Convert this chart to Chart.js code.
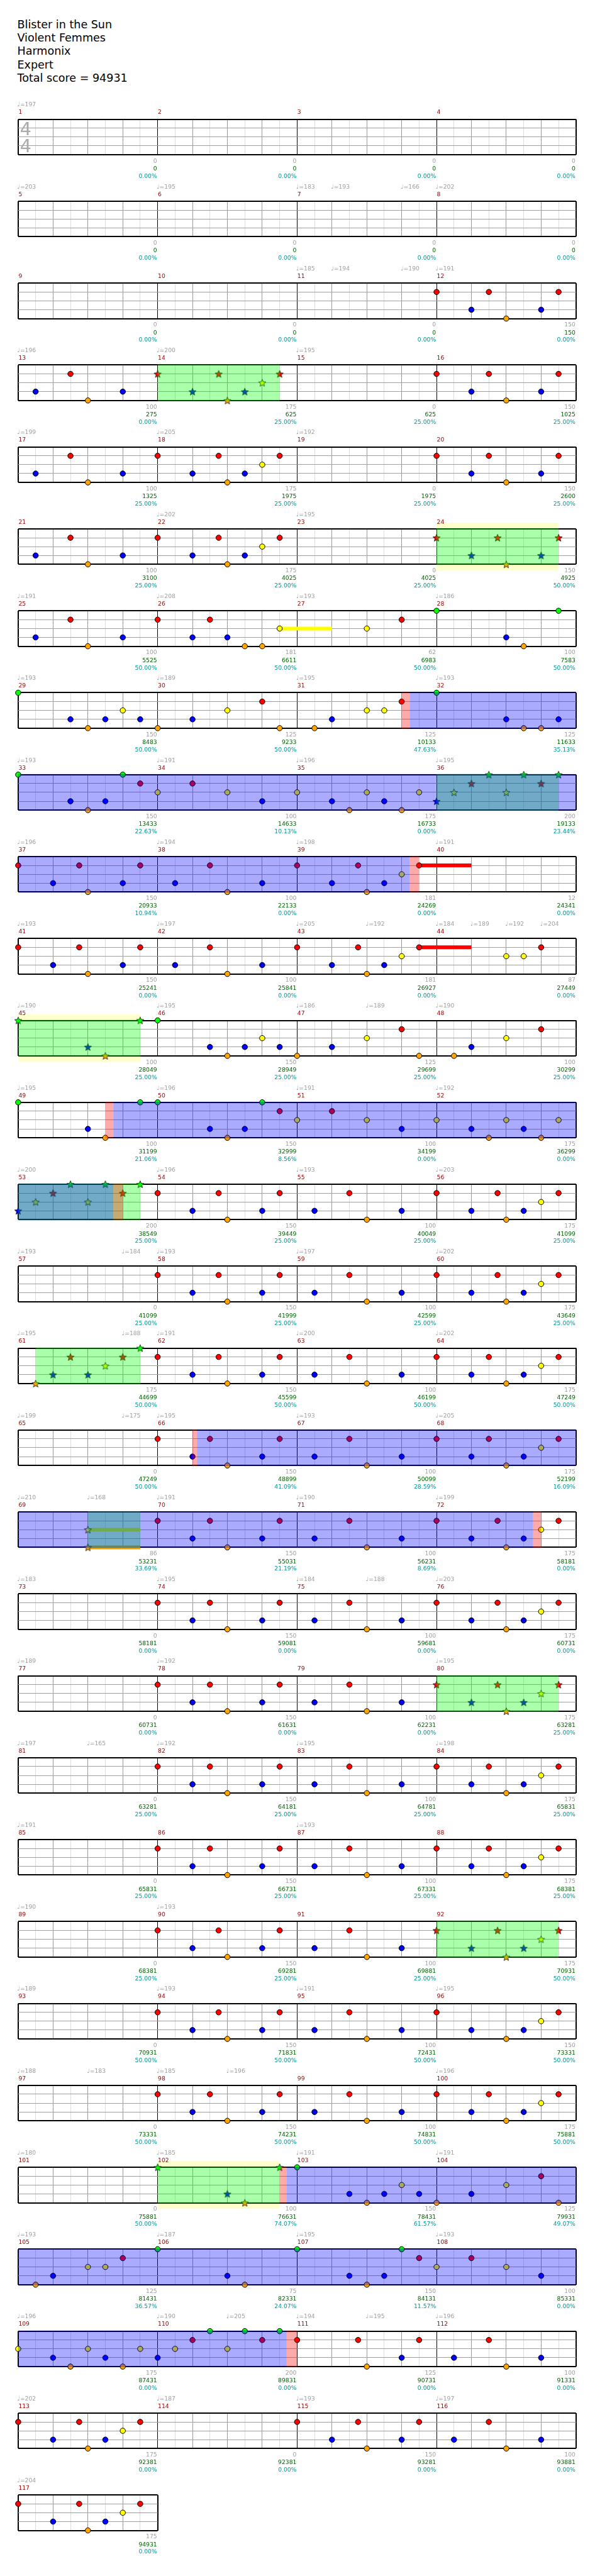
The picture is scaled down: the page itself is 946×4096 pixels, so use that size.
<!DOCTYPE html>
<html>
<head>
<meta charset="utf-8">
<script src="https://cdn.jsdelivr.net/npm/chart.js@4.4.1/dist/chart.umd.min.js"></script>
<style>
  html, body { margin: 0; padding: 0; background: #fff; }
  body { position: relative; width: 946px; height: 4096px; overflow: hidden; font-family: "DejaVu Sans", sans-serif; }
  #head { position: absolute; left: 27.5px; top: 28.8px; font-size: 17.55px; line-height: 21.25px; color: #000; white-space: nowrap; }
  canvas.row { position: absolute; left: 0; }
</style>
</head>
<body>
<div id="head"></div>
<script>
// song header lines
const songInfo = ["Blister in the Sun", "Violent Femmes", "Harmonix", "Expert", "Total score = 94931"];

// notes per measure: lane letter + beat in measure (G green, R red, Y yellow, B blue, K kick)
const measureNotes = [
  "", "", "", "", "", "", "", "", "", "", "",
  "R0 B1 R1.5 K2 B3 R3.5",
  "B0.5 R1.5 K2 B3",
  "R0 B1 R1.75 K2 B2.5 Y3 R3.5",
  "",
  "R0 B1 R1.5 K2 B3 R3.5",
  "B0.5 R1.5 K2 B3",
  "R0 B1 R1.75 K2 B2.5 Y3 R3.5",
  "",
  "R0 B1 R1.5 K2 B3 R3.5",
  "B0.5 R1.5 K2 B3",
  "R0 B1 R1.75 K2 B2.5 Y3 R3.5",
  "",
  "R0 B1 R1.75 K2 B3 R3.5",
  "B0.5 R1.5 K2 B3",
  "R0 B1 R1.5 B2 K2.5 K3 Y3.5",
  "Y2 R3",
  "G0 B2 K2.5 G3.5",
  "G0 B1.5 K2 B2.5 Y3 B3.5",
  "K0 B1 Y2 R3 K3.5",
  "K0.5 B1 Y2 Y2.5 R3",
  "G0 B2 K2.5 K3 B3.5",
  "G0 B1.5 K2 B2.5 G3 R3.5",
  "Y0 R1 Y2 B3",
  "Y0 B1 K1.5 Y2 B2.5 K3 Y3.5",
  "B0 Y0.5 R1 G1.5 Y2 G2.5 R3 G3.5",
  "R0 B1 R1.75 K2 B3 R3.5",
  "B0.5 R1.5 K2 B3",
  "R0 B1 R1.75 K2 B2.5 Y3 R3.5",
  "",
  "R0 B1 R1.75 K2 B3 R3.5",
  "B0.5 R1.5 K2 B3",
  "R0 B1 R1.75 K2 B2.5 Y3 R3.5",
  "Y2 Y2.5 R3",
  "G0 B2 K2.5 G3.5",
  "G0 B1.5 K2 B2.5 Y3 B3.5",
  "K0 B1 Y2 R3 K3.5",
  "K0.5 B1 Y2 R3",
  "G0 B2 K2.5 G3.5",
  "G0 B1.5 K2 B2.5 G3 R3.5",
  "Y0 R1 Y2 B3",
  "Y0 B1 K1.5 Y2 B2.5 K3 Y3.5",
  "B0 Y0.5 R1 G1.5 Y2 G2.5 R3 G3.5",
  "R0 B1 R1.75 K2 B3 R3.5",
  "B0.5 R1.5 K2 B3",
  "R0 B1 R1.75 K2 B2.5 Y3 R3.5",
  "",
  "R0 B1 R1.75 K2 B3 R3.5",
  "B0.5 R1.5 K2 B3",
  "R0 B1 R1.75 K2 B2.5 Y3 R3.5",
  "K0.5 B1 R1.5 B2 Y2.5 R3 G3.5",
  "R0 B1 R1.75 K2 B3 R3.5",
  "B0.5 R1.5 K2 B3",
  "R0 B1 R1.5 K2 B2.5 Y3 R3.5",
  "",
  "R0 B1 R1.5 K2 B3 R3.5",
  "B0.5 R1.5 K2 B3",
  "R0 B1 R1.5 K2 B2.5 Y3 R3.5",
  "Y2 K2",
  "R0 B1 R1.5 K2 B3 R3.5",
  "B0.5 R1.5 K2 B3",
  "R0 B1 R1.75 K2 B2.5 Y3 R3.5",
  "",
  "R0 B1 R1.5 K2 B3 R3.5",
  "B0.5 R1.5 K2 B3",
  "R0 B1 R1.75 K2 B2.5 Y3 R3.5",
  "",
  "R0 B1 R1.5 K2 B3 R3.5",
  "B0.5 R1.5 K2 B3",
  "R0 B1 R1.75 K2 B2.5 Y3 R3.5",
  "",
  "R0 B1 R1.5 K2 B3 R3.5",
  "B0.5 R1.5 K2 B3",
  "R0 B1 R1.5 K2 B2.5 Y3 R3.5",
  "",
  "R0 B1 R1.5 K2 B3 R3.5",
  "B0.5 R1.5 K2 B3",
  "R0 B1 R1.5 K2 B2.5 Y3 R3.5",
  "",
  "R0 B1 R1.75 K2 B3 R3.5",
  "B0.5 R1.5 K2 B3",
  "R0 B1 R1.75 K2 B2.5 Y3 R3.5",
  "",
  "R0 B1 R1.75 K2 B3 R3.5",
  "B0.5 R1.5 K2 B3",
  "R0 B1 K2 B2.5 Y3 R3.5",
  "",
  "R0 B1 R1.5 K2 B3 R3.5",
  "B0.5 R1.5 K2 B3",
  "R0 B1 R1.5 K2 B2.5 Y3 R3.5",
  "",
  "G0 B2 K2.5 G3.5",
  "G0 B1.5 K2 B2.5 Y3 B3.5",
  "K0 B1 Y2 R3 K3.5",
  "K0.5 B1 Y2 Y2.5 R3",
  "G0 B2 K2.5",
  "G0 B1.5 K2 B2.5 G3 R3.5",
  "Y0 R1 Y2 B3",
  "Y0 B1 K1.5 Y2 B2.5 K3 Y3.5",
  "B0 Y0.5 R1 G1.5 Y2 G2.5 R3 G3.5",
  "R0 R1.75 K2 B3 R3.5",
  "B0.5 R1.5 K2 B3",
  "R0 B1 R1.75 K2 B2.5 Y3 R3.5",
  "",
  "R0 B1 R1.75 K2 B3 R3.5",
  "B0.5 R1.5 K2 B3",
  "R0 B1 R1.75 K2 B2.5 Y3 R3.5"
];

// per measure score, running total, star power meter
const measureScores = [
  0, 0, 0, 0, 0, 0, 0, 0, 0, 0, 0,
  150, 100, 175, 0, 150, 100, 175, 0, 150,
  100, 175, 0, 150, 100, 181, 62, 100, 150, 125,
  125, 125, 150, 100, 175, 200, 150, 100, 181, 12,
  150, 100, 181, 87, 100, 150, 125, 100, 100, 150,
  100, 175, 200, 150, 100, 175, 0, 150, 100, 175,
  175, 150, 100, 175, 0, 150, 100, 175, 86, 150,
  100, 175, 0, 150, 100, 175, 0, 150, 100, 175,
  0, 150, 100, 175, 0, 150, 100, 175, 0, 150,
  100, 175, 0, 150, 100, 150, 0, 150, 100, 175,
  0, 100, 150, 125, 125, 75, 150, 100, 175, 200,
  125, 100, 175, 0, 150, 100, 175
];
const runningTotals = [
  0, 0, 0, 0, 0, 0, 0, 0, 0, 0, 0,
  150, 275, 625, 625, 1025, 1325, 1975, 1975, 2600,
  3100, 4025, 4025, 4925, 5525, 6611, 6983, 7583, 8483, 9233,
  10133, 11633, 13433, 14633, 16733, 19133, 20933, 22133, 24269, 24341,
  25241, 25841, 26927, 27449, 28049, 28949, 29699, 30299, 31199, 32999,
  34199, 36299, 38549, 39449, 40049, 41099, 41099, 41999, 42599, 43649,
  44699, 45599, 46199, 47249, 47249, 48899, 50099, 52199, 53231, 55031,
  56231, 58181, 58181, 59081, 59681, 60731, 60731, 61631, 62231, 63281,
  63281, 64181, 64781, 65831, 65831, 66731, 67331, 68381, 68381, 69281,
  69881, 70931, 70931, 71831, 72431, 73331, 73331, 74231, 74831, 75881,
  75881, 76631, 78431, 79931, 81431, 82331, 84131, 85331, 87431, 89831,
  90731, 91331, 92381, 92381, 93281, 93881, 94931
];
const spMeter = [
  0, 0, 0, 0, 0, 0, 0, 0, 0, 0, 0, 0, 0,
  25, 25, 25, 25, 25, 25, 25, 25, 25, 25,
  50, 50, 50, 50, 50, 50, 50,
  47.63, 35.13, 22.63, 10.13, 0, 23.44, 10.94, 0, 0, 0, 0, 0, 0, 0,
  25, 25, 25, 25,
  21.06, 8.56, 0, 0,
  25, 25, 25, 25, 25, 25, 25, 25,
  50, 50, 50, 50, 50,
  41.09, 28.59, 16.09, 33.69, 21.19, 8.69,
  0, 0, 0, 0, 0, 0, 0, 0,
  25, 25, 25, 25, 25, 25, 25, 25, 25, 25, 25, 25,
  50, 50, 50, 50, 50, 50, 50, 50, 50, 50,
  74.07, 61.57, 49.07, 36.57, 24.07, 11.57,
  0, 0, 0, 0, 0, 0, 0, 0, 0, 0
];

// tempo changes: [beat from song start, bpm]
const tempoMarks = [
  [0, 197], [16, 203], [20, 195], [24, 183], [25, 193], [27, 166], [28, 202],
  [40, 185], [41, 194], [43, 190], [44, 191], [48, 196], [52, 200], [56, 195],
  [64, 199], [68, 205], [72, 192], [84, 202], [88, 195],
  [96, 191], [100, 208], [104, 193], [108, 186], [112, 193], [116, 189], [120, 195], [124, 193],
  [128, 193], [132, 191], [136, 196], [140, 195], [144, 196], [148, 194], [152, 198], [156, 191],
  [160, 193], [164, 197], [168, 205], [170, 192], [172, 184], [173, 189], [174, 192], [175, 204],
  [176, 190], [180, 195], [184, 186], [186, 189], [188, 190],
  [192, 195], [196, 196], [200, 191], [204, 192], [208, 200], [212, 196], [216, 193], [220, 203],
  [224, 193], [227, 184], [228, 193], [232, 197], [236, 202],
  [240, 195], [243, 188], [244, 191], [248, 200], [252, 202],
  [256, 199], [259, 175], [260, 195], [264, 193], [268, 205],
  [272, 210], [274, 168], [276, 191], [280, 190], [284, 199],
  [288, 183], [292, 195], [296, 184], [298, 188], [300, 203],
  [304, 189], [308, 192], [316, 195],
  [320, 197], [322, 165], [324, 192], [328, 195], [332, 198],
  [336, 191], [344, 193], [352, 190], [356, 193],
  [368, 189], [372, 193], [376, 191], [380, 195],
  [384, 188], [386, 183], [388, 185], [390, 196], [396, 196],
  [400, 180], [404, 185], [408, 191], [412, 191],
  [416, 193], [420, 187], [424, 195], [428, 193],
  [432, 196], [436, 190], [438, 205], [440, 194], [442, 195], [444, 196],
  [448, 202], [452, 187], [456, 193], [460, 197], [464, 204]
];

// highlighted spans in beats from song start
const odPhrases = [[52, 55.5], [92, 95.5], [140, 143.5], [176, 179.5], [208, 211.5],
  [240.5, 243.5], [274, 275.5], [316, 319.5], [364, 367.5], [404, 407.5]];
const unisonPhrases = [[92, 95.5], [176, 179.5], [404, 407.5]];
const spActive = [[123.23, 155.23], [194.73, 210.73], [261.13, 286.77], [407.7, 439.7]];
const spWindows = [[123, 123.23], [155.23, 155.5], [194.5, 194.73], [210.73, 211],
  [261, 261.13], [286.77, 287], [407.5, 407.7], [439.7, 440]];
const sustains = [[103.5, 105, "Y"], [155.5, 157, "R"], [171.5, 173, "R"], [274, 275.5, "Y"], [274, 275.5, "K"]];

const S = 946 / 1024;
const TOP0 = 205.3, STEP = 141, STAFF_H = 61, LEFT = 31.3, MW = 240;
const FONT = '"DejaVu Sans", sans-serif';
const LANES = { G: 0, R: 1, Y: 2, B: 3, K: 4 };
const COLORS = { G: "#00ff00", R: "#ff0000", Y: "#ffff00", B: "#0000ff", K: "#ffa500" };

document.getElementById("head").innerHTML = songInfo.map(t => "<div>" + t + "</div>").join("");

function makeStar(color) {
  const size = 16;
  const c = document.createElement("canvas");
  c.width = c.height = size;
  const g = c.getContext("2d");
  const R = 6.5 * S, r = R * 0.45, cx = size / 2, cy = size / 2 + 0.6;
  g.beginPath();
  for (let k = 0; k < 10; k++) {
    const a = -Math.PI / 2 + k * Math.PI / 5;
    const d = k % 2 ? r : R;
    g.lineTo(cx + d * Math.cos(a), cy + d * Math.sin(a));
  }
  g.closePath();
  g.fillStyle = color;
  g.fill();
  g.lineWidth = 0.8;
  g.strokeStyle = "#000";
  g.stroke();
  return c;
}
const starImg = {};
Object.keys(COLORS).forEach(k => (starImg[k] = makeStar(COLORS[k])));

const allNotes = [];
measureNotes.forEach((str, i) => {
  str.split(" ").filter(Boolean).forEach(tok => {
    allNotes.push({ m: i + 1, lane: tok[0], x: i * 4 + parseFloat(tok.slice(1)) });
  });
});

const inside = (v, list) => list.some(([a, b]) => v >= a - 1e-6 && v <= b + 1e-6);
const near = (a, b) => Math.abs(a - b) < 1e-6;

function makeDeco(first, last, xMin, xMax) {
  // pixel spans of a list of beat ranges, clipped to this row
  const spans = (chart, list) => {
    const x = chart.scales.x;
    return list.filter(([a, b]) => b > xMin && a < xMax)
      .map(([a, b]) => [x.getPixelForValue(Math.max(a, xMin)), x.getPixelForValue(Math.min(b, xMax))]);
  };
  return {
    id: "deco",
    beforeDraw(chart) {
      const { ctx, chartArea: a } = chart;
      ctx.save();
      ctx.fillStyle = "#ffffcc";
      spans(chart, unisonPhrases).forEach(([p, q]) => ctx.fillRect(p, a.top - 10.6 * S, q - p, a.bottom - a.top + 21 * S));
      ctx.fillStyle = "#fff";
      ctx.fillRect(a.left, a.top, a.right - a.left, a.bottom - a.top);
      ctx.restore();
    },
    beforeDatasetsDraw(chart) {
      if (first !== 1) return;
      const { ctx, chartArea: a } = chart;
      ctx.save();
      ctx.fillStyle = "#aaaaaa";
      ctx.font = 31 * S + "px " + FONT;
      ctx.textBaseline = "alphabetic";
      ctx.fillText("4", a.left + 3.2 * S, a.top + 27 * S);
      ctx.fillText("4", a.left + 3.2 * S, a.top + 56.4 * S);
      ctx.restore();
    },
    afterDatasetsDraw(chart) {
      const { ctx, chartArea: a } = chart;
      ctx.save();
      const h = a.bottom - a.top + 2;
      ctx.fillStyle = "rgba(0,255,0,0.333)";
      spans(chart, odPhrases).forEach(([p, q]) => ctx.fillRect(p, a.top - 1, q - p, h));
      ctx.fillStyle = "rgba(0,0,255,0.333)";
      spans(chart, spActive).forEach(([p, q]) => ctx.fillRect(p, a.top - 1, q - p, h));
      ctx.fillStyle = "rgba(255,0,0,0.333)";
      spans(chart, spWindows).forEach(([p, q]) => ctx.fillRect(p, a.top - 1, q - p, h));
      ctx.restore();
    },
    afterDraw(chart) {
      const { ctx, chartArea: a } = chart;
      const x = chart.scales.x;
      ctx.save();
      ctx.font = 10 * S + "px " + FONT;
      ctx.textBaseline = "middle";
      tempoMarks.filter(([b]) => b >= xMin && b < xMax).forEach(([b, bpm]) => {
        ctx.fillStyle = "#a0a0a0";
        ctx.textAlign = "left";
        ctx.fillText("\u2669=" + bpm, x.getPixelForValue(b) - 1.5 * S, a.top - 24.5 * S);
      });
      for (let m = first; m <= last; m++) {
        const xs = x.getPixelForValue((m - 1) * 4);
        const xe = x.getPixelForValue(m * 4) - 1 * S;
        ctx.textAlign = "left";
        ctx.fillStyle = "#990000";
        ctx.fillText(String(m), xs + 0.5 * S, a.top - 11.5 * S);
        ctx.textAlign = "right";
        ctx.fillStyle = "#a0a0a0";
        ctx.fillText(String(measureScores[m - 1]), xe, a.top + 72.3 * S);
        ctx.fillStyle = "#006400";
        ctx.fillText(String(runningTotals[m - 1]), xe, a.top + 85.6 * S);
        ctx.fillStyle = "#009999";
        ctx.fillText(spMeter[m - 1].toFixed(2) + "%", xe, a.top + 98.4 * S);
      }
      ctx.restore();
    }
  };
}

const rows = Math.ceil(measureNotes.length / 4);
for (let r = 0; r < rows; r++) {
  const first = r * 4 + 1, last = Math.min(r * 4 + 4, measureNotes.length);
  const xMin = (first - 1) * 4, xMax = last * 4;
  const T = TOP0 + r * STEP;
  const top = Math.round((T - 40) * S);
  const H = Math.round(150 * S);
  const W = 946;
  const padTop = T * S - top;
  const padLeft = LEFT * S;
  const padRight = W - (LEFT + MW * (last - first + 1)) * S;
  const padBottom = H - padTop - STAFF_H * S;

  const cv = document.createElement("canvas");
  cv.className = "row";
  cv.width = W;
  cv.height = H;
  cv.style.width = W + "px";
  cv.style.height = H + "px";
  cv.style.top = top + "px";
  document.body.appendChild(cv);

  const rowNotes = allNotes.filter(n => n.m >= first && n.m <= last);
  const datasets = [];
  Object.keys(LANES).forEach(k => {
    const pts = rowNotes.filter(n => n.lane === k);
    const plain = pts.filter(n => !inside(n.x, odPhrases)).map(n => ({ x: n.x, y: LANES[k] }));
    const starred = pts.filter(n => inside(n.x, odPhrases)).map(n => ({ x: n.x, y: LANES[k] }));
    if (plain.length) datasets.push({
      data: plain, pointStyle: "circle", pointRadius: 4.6 * S,
      pointBackgroundColor: COLORS[k], pointBorderColor: "#000", pointBorderWidth: 1,
      clip: false, order: 1
    });
    if (starred.length) datasets.push({
      data: starred, pointStyle: starImg[k], pointRadius: 6, clip: false, order: 1
    });
  });
  sustains.filter(([a, b]) => a < xMax && b > xMin).forEach(([a, b, k]) => {
    datasets.push({
      data: [{ x: Math.max(a, xMin), y: LANES[k] }, { x: Math.min(b, xMax), y: LANES[k] }],
      showLine: true, borderColor: COLORS[k], borderWidth: 6.5 * S, borderCapStyle: "butt",
      pointRadius: 0, clip: false, order: 2
    });
  });

  new Chart(cv, {
    type: "scatter",
    data: { datasets },
    options: {
      responsive: false,
      animation: false,
      devicePixelRatio: 1,
      events: [],
      layout: { padding: { left: padLeft, right: padRight, top: padTop, bottom: padBottom } },
      plugins: { legend: { display: false }, tooltip: { enabled: false } },
      scales: {
        x: {
          type: "linear", min: xMin, max: xMax,
          ticks: { display: false, stepSize: 0.5, autoSkip: false },
          border: { display: false },
          grid: {
            drawTicks: false,
            color: c => {
              const v = c.tick.value;
              if (near(v % 4, 0)) return "#000";
              if (near(v % 1, 0)) return "#999";
              return "#dddddd";
            },
            lineWidth: c => (near(c.tick.value, xMin) || near(c.tick.value, xMax) ? 2 : 1)
          }
        },
        y: {
          type: "linear", min: 0, max: 4, reverse: true,
          ticks: { display: false, stepSize: 1 },
          border: { display: false },
          grid: {
            drawTicks: false,
            color: c => (c.tick.value === 0 || c.tick.value === 4 ? "#000" : "#a0a0a0"),
            lineWidth: c => (c.tick.value === 0 || c.tick.value === 4 ? 2 : 1)
          }
        }
      }
    },
    plugins: [makeDeco(first, last, xMin, xMax)]
  });
}
</script>
</body>
</html>
